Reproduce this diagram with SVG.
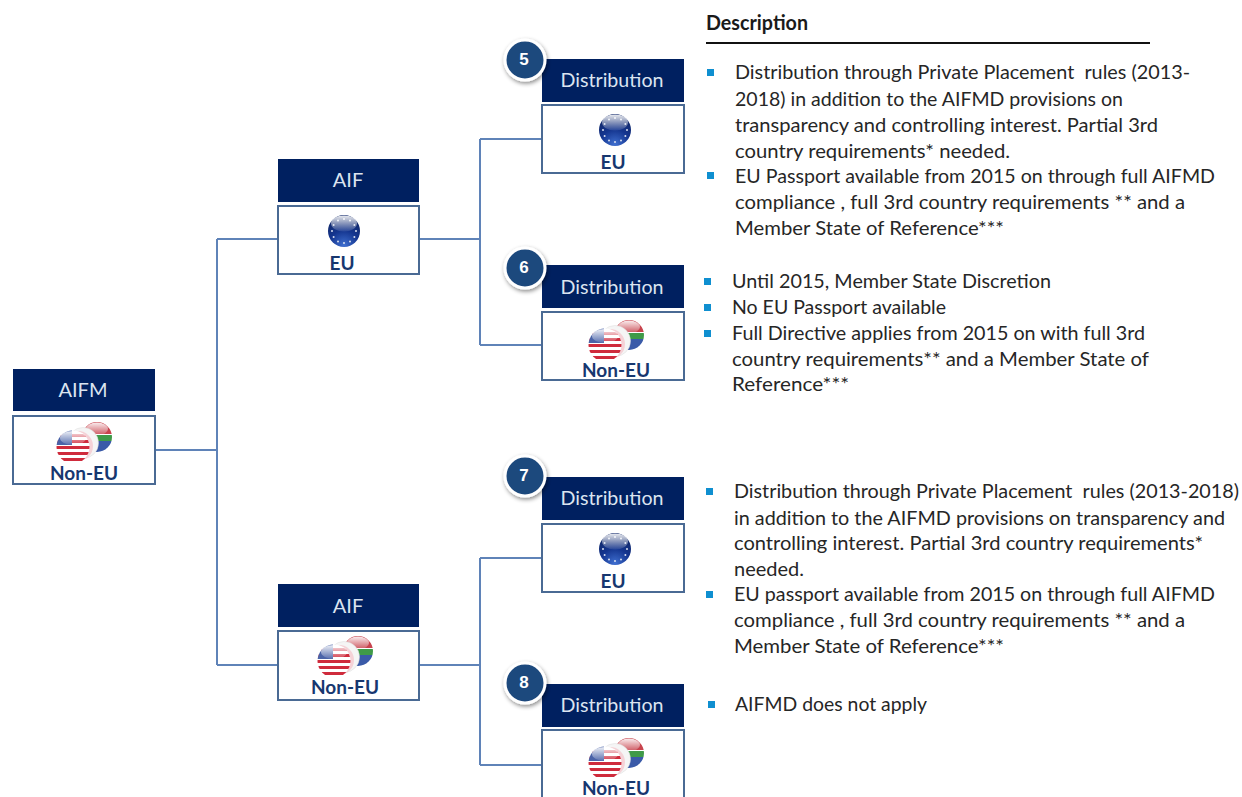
<svg xmlns="http://www.w3.org/2000/svg" width="1242" height="797" viewBox="0 0 1242 797">
<style>
text{font-family:"Lato","Liberation Sans",sans-serif;white-space:pre}
.hd{fill:#002060}
.bx{fill:#fff;stroke:#4a6a94;stroke-width:2}
.ht{fill:#dbe4f0;font-size:20px;text-anchor:middle}
.lb{fill:#17376f;font-size:19px;font-weight:700;text-anchor:middle}
.ds{fill:#262626;font-size:20px}
.bu{fill:#0f8fd0}
.cn{fill:none;stroke:#5f83b8;stroke-width:2}
.bd{fill:#1f497d;stroke:#fff;stroke-width:3;filter:url(#sh)}
.bn{fill:#fff;font-size:17px;font-weight:700;text-anchor:middle;font-family:"Liberation Sans",sans-serif}
</style>
<defs>
<filter id="sh" x="-30%" y="-30%" width="170%" height="170%"><feDropShadow dx="1" dy="2" stdDeviation="2" flood-color="#000" flood-opacity=".45"/></filter>
<radialGradient id="eg" cx=".5" cy=".95" r=".85"><stop offset="0" stop-color="#3f6fd0"/><stop offset=".55" stop-color="#14358f"/><stop offset="1" stop-color="#12296a"/></radialGradient>
<linearGradient id="gl" x1="0" y1="0" x2="0" y2="1"><stop offset="0" stop-color="#fff" stop-opacity=".9"/><stop offset="1" stop-color="#fff" stop-opacity=".08"/></linearGradient>
<clipPath id="cu"><circle r="16.500"/></clipPath>
<clipPath id="cs"><circle r="15"/></clipPath>
<g id="eu">
<circle r="16" fill="url(#eg)"/>
<g fill="#d8deee"><circle cx="0" cy="-12" r="1"/><circle cx="6" cy="-10.400" r="1"/><circle cx="10.400" cy="-6" r="1"/><circle cx="12" cy="0" r="1"/><circle cx="10.400" cy="6" r="1"/><circle cx="6" cy="10.400" r="1"/><circle cx="0" cy="12" r="1"/><circle cx="-6" cy="10.400" r="1"/><circle cx="-10.400" cy="6" r="1"/><circle cx="-12" cy="0" r="1"/><circle cx="-10.400" cy="-6" r="1"/><circle cx="-6" cy="-10.400" r="1"/></g>
<ellipse cy="-7.500" rx="13" ry="8" fill="url(#gl)"/>
</g>
<g id="non">
<g transform="translate(24,-10)">
<g clip-path="url(#cs)">
<rect x="-15" y="-15" width="30" height="30" fill="#fff"/>
<rect x="-15" y="-15" width="30" height="12" fill="#c8444e"/>
<rect x="-15" y="4" width="30" height="11" fill="#3a5aa8"/>
<path d="M-15 -9L-2 -2H15V4H-2L-15 11Z" fill="#3f9a48"/>
</g>
<ellipse cy="-8" rx="11" ry="6.500" fill="url(#gl)"/>
</g>
<circle cx="10" cy="-4" r="15.500" fill="#f5f5f5" stroke="#ddd" stroke-width=".5"/>
<circle cx="5" cy="-1" r="15" fill="#f4c6cc" opacity=".75"/>
<g clip-path="url(#cu)">
<rect x="-17" y="-17" width="34" height="34" fill="#fff"/>
<g fill="#cf2b3c"><rect x="-17" y="-13" width="34" height="3"/><rect x="-17" y="-7" width="34" height="3"/><rect x="-17" y="-1" width="34" height="3"/><rect x="-17" y="5" width="34" height="3"/><rect x="-17" y="11" width="34" height="3"/></g>
<rect x="-17" y="-17" width="16" height="15" fill="#4a63a8"/>
</g>
<ellipse cy="-9" rx="13" ry="7" fill="url(#gl)"/>
</g>
</defs>
<rect width="1242" height="797" fill="#fff"/>

<g id="connectors" class="cn">
<path d="M155 450H217M217 239V665M217 239H278M217 665H278"/>
<path d="M419 239H480M480 139V345M480 139H542M480 345H542"/>
<path d="M419 665H480M480 558V765M480 558H542M480 765H542"/>
</g>

<g id="aifm">
<rect class="hd" x="13" y="369" width="142" height="42"/><text class="ht" x="83" y="397">AIFM</text>
<rect class="bx" x="13" y="416" width="142" height="68"/><use href="#non" x="73" y="447"/><text class="lb" x="84" y="480">Non-EU</text>
</g>
<g id="aif-eu">
<rect class="hd" x="278" y="159" width="141" height="43"/><text class="ht" x="348" y="187">AIF</text>
<rect class="bx" x="278" y="206" width="141" height="68"/><use href="#eu" x="344" y="231"/><text class="lb" x="342" y="270">EU</text>
</g>
<g id="aif-non-eu">
<rect class="hd" x="278" y="584" width="141" height="43"/><text class="ht" x="348" y="613">AIF</text>
<rect class="bx" x="278" y="631" width="141" height="69"/><use href="#non" x="334" y="661"/><text class="lb" x="345" y="694">Non-EU</text>
</g>
<g id="dist-5">
<rect class="hd" x="542" y="59" width="142" height="43"/><text class="ht" x="612" y="87" textLength="103" lengthAdjust="spacingAndGlyphs">Distribution</text>
<rect class="bx" x="542" y="105" width="142" height="68"/><use href="#eu" x="615" y="130"/><text class="lb" x="613" y="169">EU</text>
<circle class="bd" cx="525" cy="60" r="20"/><text class="bn" x="524" y="65">5</text>
</g>
<g id="dist-6">
<rect class="hd" x="542" y="265" width="142" height="43"/><text class="ht" x="612" y="294" textLength="103" lengthAdjust="spacingAndGlyphs">Distribution</text>
<rect class="bx" x="542" y="312" width="142" height="68"/><use href="#non" x="605" y="345"/><text class="lb" x="616" y="377">Non-EU</text>
<circle class="bd" cx="525" cy="268" r="20"/><text class="bn" x="524" y="273">6</text>
</g>
<g id="dist-7">
<rect class="hd" x="542" y="477" width="142" height="43"/><text class="ht" x="612" y="505" textLength="103" lengthAdjust="spacingAndGlyphs">Distribution</text>
<rect class="bx" x="542" y="524" width="142" height="68"/><use href="#eu" x="615" y="549"/><text class="lb" x="613" y="588">EU</text>
<circle class="bd" cx="525" cy="476" r="20"/><text class="bn" x="524" y="481">7</text>
</g>
<g id="dist-8">
<rect class="hd" x="542" y="684" width="142" height="43"/><text class="ht" x="612" y="712" textLength="103" lengthAdjust="spacingAndGlyphs">Distribution</text>
<rect class="bx" x="542" y="730" width="142" height="72"/><use href="#non" x="605" y="763"/><text class="lb" x="616" y="795">Non-EU</text>
<circle class="bd" cx="525" cy="683" r="20"/><text class="bn" x="524" y="688">8</text>
</g>

<g id="description">
<text x="706" y="30" font-size="20" font-weight="700" fill="#1a1a1a" textLength="102" lengthAdjust="spacingAndGlyphs">Description</text>
<rect x="706" y="42" width="444" height="2" fill="#111"/>
<rect class="bu" x="707" y="69" width="7" height="7"/><rect class="bu" x="707" y="172" width="7" height="7"/>
<rect class="bu" x="704" y="278" width="7" height="7"/><rect class="bu" x="704" y="304" width="7" height="7"/><rect class="bu" x="704" y="330" width="7" height="7"/>
<rect class="bu" x="706" y="488" width="7" height="7"/><rect class="bu" x="706" y="591" width="7" height="7"/>
<rect class="bu" x="708" y="701" width="7" height="7"/>
<text class="ds" x="735" y="79" textLength="455" lengthAdjust="spacingAndGlyphs">Distribution through Private Placement  rules (2013-</text>
<text class="ds" x="735" y="106" textLength="388" lengthAdjust="spacingAndGlyphs">2018) in addition to the AIFMD provisions on</text>
<text class="ds" x="735" y="132" textLength="423" lengthAdjust="spacingAndGlyphs">transparency and controlling interest. Partial 3rd</text>
<text class="ds" x="735" y="158" textLength="275" lengthAdjust="spacingAndGlyphs">country requirements* needed.</text>
<text class="ds" x="735" y="183" textLength="480" lengthAdjust="spacingAndGlyphs">EU Passport available from 2015 on through full AIFMD</text>
<text class="ds" x="735" y="209" textLength="450" lengthAdjust="spacingAndGlyphs">compliance , full 3rd country requirements ** and a</text>
<text class="ds" x="735" y="235" textLength="269" lengthAdjust="spacingAndGlyphs">Member State of Reference***</text>
<text class="ds" x="732" y="288" textLength="319" lengthAdjust="spacingAndGlyphs">Until 2015, Member State Discretion</text>
<text class="ds" x="732" y="314" textLength="214" lengthAdjust="spacingAndGlyphs">No EU Passport available</text>
<text class="ds" x="732" y="340" textLength="413" lengthAdjust="spacingAndGlyphs">Full Directive applies from 2015 on with full 3rd</text>
<text class="ds" x="732" y="366" textLength="417" lengthAdjust="spacingAndGlyphs">country requirements** and a Member State of</text>
<text class="ds" x="732" y="391" textLength="117" lengthAdjust="spacingAndGlyphs">Reference***</text>
<text class="ds" x="734" y="498" font-size="19.500" style="font-size:19.500px" textLength="505" lengthAdjust="spacingAndGlyphs">Distribution through Private Placement  rules (2013-2018)</text>
<text class="ds" x="734" y="525" textLength="491" lengthAdjust="spacingAndGlyphs">in addition to the AIFMD provisions on transparency and</text>
<text class="ds" x="734" y="550" textLength="469" lengthAdjust="spacingAndGlyphs">controlling interest. Partial 3rd country requirements*</text>
<text class="ds" x="734" y="576" textLength="70" lengthAdjust="spacingAndGlyphs">needed.</text>
<text class="ds" x="734" y="601" textLength="481" lengthAdjust="spacingAndGlyphs">EU passport available from 2015 on through full AIFMD</text>
<text class="ds" x="734" y="627" textLength="451" lengthAdjust="spacingAndGlyphs">compliance , full 3rd country requirements ** and a</text>
<text class="ds" x="734" y="653" textLength="270" lengthAdjust="spacingAndGlyphs">Member State of Reference***</text>
<text class="ds" x="735" y="711" textLength="192" lengthAdjust="spacingAndGlyphs">AIFMD does not apply</text>
</g>
</svg>
